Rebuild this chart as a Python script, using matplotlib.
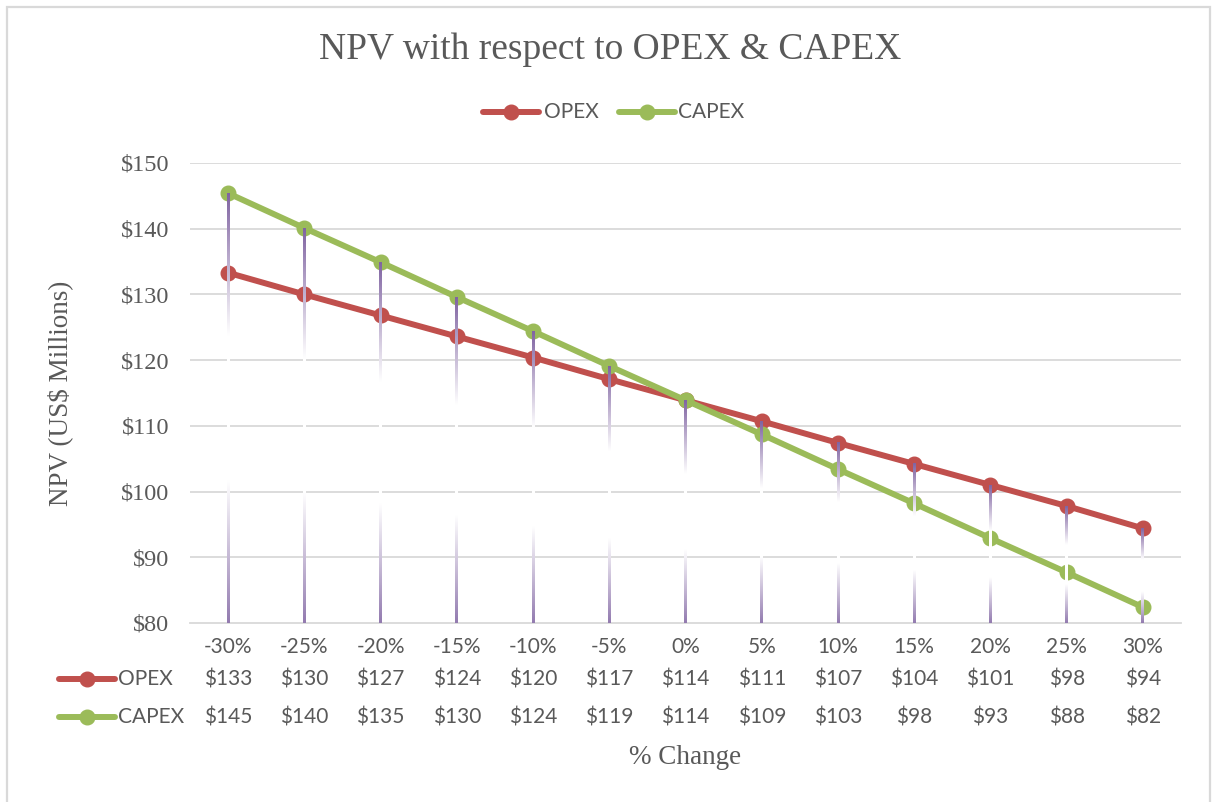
import matplotlib
matplotlib.use("Agg")
import matplotlib.pyplot as plt
import numpy as np
from matplotlib.colors import to_rgb
from matplotlib.lines import Line2D
from matplotlib import transforms

# data
changes = ["-30%", "-25%", "-20%", "-15%", "-10%", "-5%", "0%",
           "5%", "10%", "15%", "20%", "25%", "30%"]
opex = [133.3, 130.0, 126.8, 123.6, 120.4, 117.1, 113.9,
        110.7, 107.4, 104.2, 101.0, 97.8, 94.4]
capex = [145.4, 140.1, 134.9, 129.6, 124.4, 119.1, 113.9,
         108.7, 103.4, 98.2, 92.9, 87.7, 82.4]
y_ticks = [80, 90, 100, 110, 120, 130, 140, 150]

RED = "#C0504D"
GREEN = "#9BBB59"
PURPLE = "#8064A2"
GRID = "#D9D9D9"
TXT = "#595959"
SERIF = "Liberation Serif"
SANS = "Lato"
LW, MS = 4.3, 10.5

W, H = 1212, 802
fig = plt.figure(figsize=(W / 100, H / 100), dpi=100)


def fy(py):
    return 1 - py / H


def fx(px):
    return px / W


# outer chart border
fig.add_artist(plt.Rectangle((fx(7), fy(830)), fx(1203), (830 - 7) / H,
                             transform=fig.transFigure, fill=False,
                             edgecolor=GRID, lw=1.6))

left, right, top, bottom = 190, 1181, 163, 623
ax = fig.add_axes([fx(left), fy(bottom), (right - left) / W, (bottom - top) / H])
x = np.arange(len(changes))

for s in ["top", "right", "left"]:
    ax.spines[s].set_visible(False)
ax.spines["bottom"].set_color(GRID)
ax.spines["bottom"].set_linewidth(1.3)
ax.set_yticks(y_ticks)
ax.set_yticklabels([f"${v}" for v in y_ticks], family=SERIF, fontsize=17.5, color=TXT)
ax.tick_params(axis="y", length=0, pad=15)
ax.set_xticks([])
for v in y_ticks[1:]:
    ax.axhline(v, color=GRID, lw=1.3, zorder=0)

ax.plot(x, opex, color=RED, lw=LW, marker="o", ms=MS, zorder=3)
ax.plot(x, capex, color=GREEN, lw=LW, marker="o", ms=MS, zorder=3)

# gradient drop lines (purple -> white -> purple)
p = np.array(to_rgb(PURPLE))
wht = np.ones(3)
stops = [(0.0, p), (0.33, wht), (0.67, wht), (1.0, p * 0.85 + wht * 0.15)]


def grad(t):
    for (t0, c0), (t1, c1) in zip(stops[:-1], stops[1:]):
        if t <= t1:
            f = (t - t0) / (t1 - t0)
            return c0 * (1 - f) + c1 * f
    return stops[-1][1]


half = 0.019
col = np.array([grad(t) for t in np.linspace(0, 1, 200)])[:, None, :]
for i in x:
    y0 = max(opex[i], capex[i])
    ax.imshow(col, extent=(i - half, i + half, 80, y0), origin="upper",
              aspect="auto", interpolation="bilinear", zorder=4)

ax.set_xlim(-0.5, len(changes) - 0.5)
ax.set_ylim(80, 150)

fig.text(fx(60), fy(393), "NPV (US$ Millions)", family=SERIF, fontsize=19.5,
         color=TXT, rotation=90, ha="center", va="center")

# title
fig.text(fx(610), fy(50), "NPV with respect to OPEX & CAPEX", family=SERIF,
         fontsize=27, color=TXT, ha="center", va="center")


def key(xc, yc, color, half_px=28):
    fig.add_artist(Line2D([fx(xc - half_px), fx(xc + half_px)], [fy(yc), fy(yc)],
                          transform=fig.transFigure, color=color, lw=LW,
                          solid_capstyle="round", zorder=5))
    fig.add_artist(Line2D([fx(xc)], [fy(yc)], transform=fig.transFigure,
                          color=color, marker="o", ms=MS, lw=0, zorder=5))


# top legend
key(511, 112, RED)
fig.text(fx(544), fy(112), "OPEX", family=SANS, fontsize=15, color=TXT, va="center")
key(647, 112, GREEN)
fig.text(fx(678), fy(112), "CAPEX", family=SANS, fontsize=15, color=TXT, va="center")

# data table below the axis
tr = transforms.blended_transform_factory(ax.transData, fig.transFigure)
for i, lab in enumerate(changes):
    ax.text(i, fy(647), lab, transform=tr, family=SANS, fontsize=15,
            color=TXT, ha="center", va="center")
    ax.text(i, fy(679), f"${opex[i]:.0f}", transform=tr, family=SANS,
            fontsize=15, color=TXT, ha="center", va="center")
    ax.text(i, fy(717), f"${capex[i]:.0f}", transform=tr, family=SANS,
            fontsize=15, color=TXT, ha="center", va="center")

key(87, 679, RED)
fig.text(fx(118), fy(679), "OPEX", family=SANS, fontsize=15, color=TXT, va="center")
key(87, 717, GREEN)
fig.text(fx(118), fy(717), "CAPEX", family=SANS, fontsize=15, color=TXT, va="center")

fig.text(fx((left + right) / 2), fy(758), "% Change", family=SERIF, fontsize=19.5,
         color=TXT, ha="center", va="center")

fig.savefig("out.png", dpi=100)
